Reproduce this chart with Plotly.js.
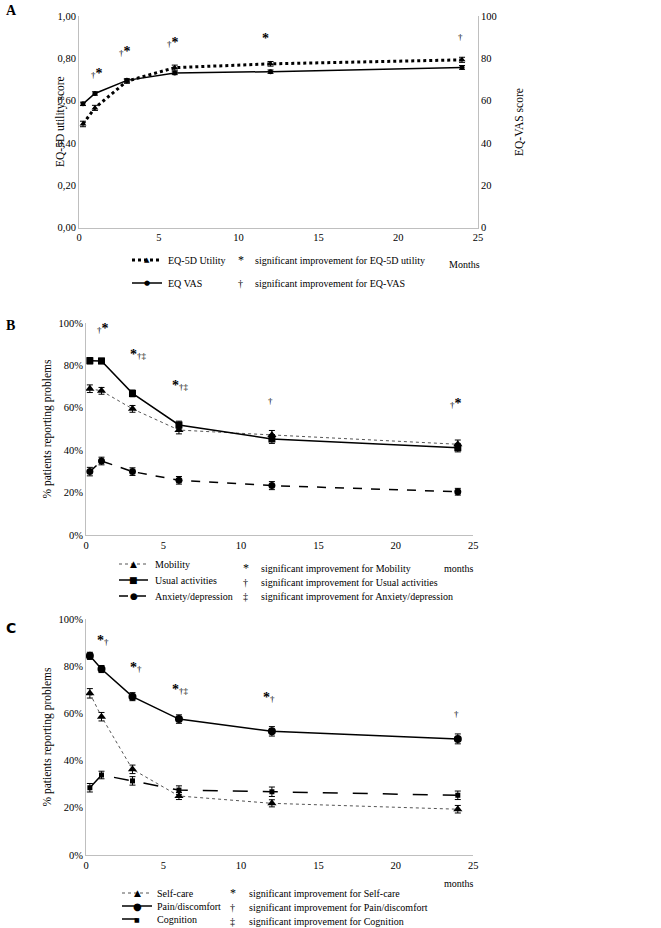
<!DOCTYPE html>
<html><head><meta charset="utf-8">
<script src="https://cdn.plot.ly/plotly-3.0.1.min.js"></script>
<style>body{margin:0;background:#fff}#chart{width:661px;height:928px}</style>
</head><body><div id="chart"></div>
<script>
// ---------- DATA ----------
const months = [0.25, 1, 3, 6, 12, 24];

// Panel A
const utility    = [0.49, 0.566, 0.692, 0.756, 0.774, 0.793];
const utilityErr = [0.013, 0.012, 0.010, 0.012, 0.011, 0.012];
const vas        = [58.5, 63.4, 69.6, 73.1, 73.7, 75.7];
const vasErr     = [0.8, 0.8, 0.7, 0.8, 0.8, 0.9];
const sigAx   = [1.1, 2.9, 5.9, 11.7, 23.9];
const sigAy   = [0.73, 0.83, 0.877, 0.892, 0.90];
const sigAtxt = ["†*", "†*", "†*", "*", "†"];

// Panel B
const mobility     = [69, 68, 59.5, 49.5, 47.2, 42.8];
const mobilityErr  = [1.8, 1.6, 1.6, 1.8, 2.1, 2.0];
const usual        = [82.2, 82.1, 66.8, 51.9, 45.3, 41.2];
const usualErr     = [1.5, 1.3, 1.6, 1.8, 2.1, 2.0];
const anxiety      = [29.9, 34.9, 29.9, 25.8, 23.3, 20.4];
const anxietyErr   = [2.0, 1.8, 1.8, 1.8, 1.9, 1.6];
const sigBx   = [1.1, 3.4, 6.1, 11.9, 23.9];
const sigBy   = [97.6, 85.2, 70.3, 63, 61.8];
const sigBtxt = ["†*", "*†‡", "*†‡", "†", "†*"];

// Panel C
const selfcare     = [68.5, 58.6, 36.3, 25.0, 21.9, 19.4];
const selfcareErr  = [2.0, 1.8, 1.8, 1.5, 1.5, 1.6];
const pain         = [84.4, 78.8, 67.1, 57.6, 52.4, 49.2];
const painErr      = [1.5, 1.5, 1.7, 1.8, 2.0, 2.1];
const cognition    = [28.5, 33.9, 31.4, 27.5, 26.8, 25.3];
const cognitionErr = [1.8, 1.6, 1.8, 1.8, 2.0, 1.8];
const sigCx   = [1.1, 3.2, 6.1, 11.8, 23.9];
const sigCy   = [91, 79.5, 70.3, 66.7, 59.6];
const sigCtxt = ["*†", "*†", "*†‡", "*†", "†"];

// ---------- STYLE / LAYOUT ----------
const W = 661, H = 928;
const SERIF = "Liberation Serif";
const px = x => x / W, py = y => 1 - y / H;
const AX = '#bfbfbf';
const LEG = 10;     // legend text size
const TICK = 10.5;  // tick label size
const TITLE = 11.5; // axis title size

function eb(arr){ return {type:'data', array:arr, visible:true, color:'#000', thickness:1, width:3}; }
function tr(y, err, xa, ya, mk, msize, dash, lw, lc){
  return {x: months, y: y, xaxis: xa, yaxis: ya, type:'scatter', mode:'lines+markers',
    line:{color: lc || '#000', width: lw, dash: dash},
    marker:{symbol: mk, size: msize, color:'#000'},
    error_y: eb(err), showlegend:false, hoverinfo:'skip'};
}
const data = [
  tr(vas, vasErr, 'x', 'y', 'circle', 5, 'solid', 1.5),
  tr(utility, utilityErr, 'x', 'y2', 'triangle-up', 6, 'dot', 3),
  tr(mobility, mobilityErr, 'x3', 'y3', 'triangle-up', 8, 'dot', 1, '#555'),
  tr(usual, usualErr, 'x3', 'y3', 'square', 7, 'solid', 1.5),
  tr(anxiety, anxietyErr, 'x3', 'y3', 'circle', 7, 'dash', 1.5),
  tr(selfcare, selfcareErr, 'x4', 'y4', 'triangle-up', 8, 'dot', 1, '#555'),
  tr(pain, painErr, 'x4', 'y4', 'circle', 8, 'solid', 1.5),
  tr(cognition, cognitionErr, 'x4', 'y4', 'square', 5, 'longdash', 1.5)
];

function fmtSig(s){
  return s.split('').map(c => c === '*' ? '<b><span style="font-size:14px;color:#000">*</span></b>'
                                       : '<span style="font-size:9px;color:#000">' + c + '</span>').join('');
}
const annotations = [];
function sigAnn(xs, ys, ts, xr, yr){
  xs.forEach((x, i) => annotations.push({xref: xr, yref: yr, x: x, y: ys[i], text: fmtSig(ts[i]),
    showarrow:false, xanchor:'center', yanchor:'middle', font:{family:SERIF, size:12, color:'#000'}}));
}
sigAnn(sigAx, sigAy, sigAtxt, 'x', 'y2');
sigAnn(sigBx, sigBy, sigBtxt, 'x3', 'y3');
sigAnn(sigCx, sigCy, sigCtxt, 'x4', 'y4');

function txt(x, y, text, size, extra){
  annotations.push(Object.assign({xref:'paper', yref:'paper', x:px(x), y:py(y), text:text, showarrow:false,
    xanchor:'left', yanchor:'middle', font:{family:SERIF, size:size || LEG, color:'#000'}}, extra || {}));
}
const shapes = [];
function sample(x0, x1, y, dash, lw, glyph, gsize, lc){
  shapes.push({type:'line', xref:'paper', yref:'paper', x0:px(x0), x1:px(x1), y0:py(y), y1:py(y),
    line:{color: lc || '#000', width: lw, dash: dash}});
  txt((x0 + x1) / 2, y, glyph, gsize, {xanchor:'center', font:{family:'DejaVu Sans', size:gsize, color:'#000'}});
}

// Panel labels
txt(4, 10, '<b>A</b>', 14);
txt(4, 326, '<b>B</b>', 14);
txt(4, 628, '<b>C</b>', 14, {font:{family:'DejaVu Sans', size:14, color:'#000'}});

// Panel A axis titles (rotated text)
txt(60, 122, 'EQ-5D utility score', TITLE, {xanchor:'center', textangle:-90});
txt(511, 122, 'EQ-VAS score', TITLE, {xanchor:'left', textangle:-90});

// Legend A
sample(132, 162, 260, 'dot', 3, '▲', 7);
txt(166, 260, 'EQ-5D Utility');
txt(236, 260, '*', 12);
txt(253, 260, 'significant improvement for EQ-5D utility');
txt(447, 264, 'Months');
sample(132, 162, 283, 'solid', 1.5, '●', 7);
txt(166, 283, 'EQ VAS');
txt(236, 283, '†');
txt(253, 283, 'significant improvement for EQ-VAS');

// Legend B
sample(119, 148, 564, 'dot', 1, '▲', 9, '#555');
txt(153, 564, 'Mobility');
sample(119, 148, 580, 'solid', 1.5, '■', 9);
txt(153, 580, 'Usual activities');
sample(119, 148, 596, 'dash', 1.5, '●', 9);
txt(153, 596, 'Anxiety/depression');
txt(241, 568, '*', 12);
txt(259, 568, 'significant improvement for Mobility');
txt(442, 568, 'months');
txt(241, 582, '†');
txt(259, 582, 'significant improvement for Usual activities');
txt(241, 596, '‡');
txt(259, 596, 'significant improvement for Anxiety/depression');

// Legend C
txt(442, 883, 'months');
sample(122, 152, 893, 'dot', 1, '▲', 9, '#555');
txt(155, 893, 'Self-care');
sample(122, 152, 906, 'solid', 1.5, '●', 10);
txt(155, 906, 'Pain/discomfort');
sample(122, 152, 919, 'longdash', 1.5, '■', 6);
txt(155, 919, 'Cognition');
txt(228, 893, '*', 12);
txt(247, 893, 'significant improvement for Self-care');
txt(228, 907, '†');
txt(247, 907, 'significant improvement for Pain/discomfort');
txt(228, 921, '‡');
txt(247, 921, 'significant improvement for Cognition');

const tf = {family: SERIF, size: TICK, color: '#000'};
function xax(dom, anchor){
  return {domain: dom, anchor: anchor, range:[0,25], dtick:5, tick0:0, showline:true, linecolor:AX, linewidth:1,
    ticks:'', showgrid:false, zeroline:false, tickfont: tf, fixedrange:true};
}
function yax(dom, anchor, range, dtick, extra){
  return Object.assign({domain: dom, anchor: anchor, range: range, dtick: dtick, tick0:0, showline:true, linecolor:AX,
    linewidth:1, ticks:'', showgrid:false, zeroline:false, tickfont: tf, fixedrange:true}, extra || {});
}
const tt = t => ({text: t, font:{family:SERIF, size:TITLE, color:'#000'}});

const layout = {
  width: W, height: H, autosize:false, margin:{l:0, r:0, t:0, b:0},
  paper_bgcolor:'#fff', plot_bgcolor:'#fff', separators:', ',
  font:{family: SERIF, color:'#000'},
  showlegend:false,
  xaxis:  xax([px(79), px(478)], 'y'),
  yaxis:  yax([py(227.7), py(16)], 'x', [0,100], 20, {side:'right'}),
  yaxis2: yax([py(227.7), py(16)], 'x', [0,1], 0.2, {overlaying:'y', side:'left', tickformat:'.2f'}),
  xaxis3: xax([px(86), px(473.3)], 'y3'),
  yaxis3: yax([py(535), py(323)], 'x3', [0,100], 20, {ticksuffix:'%',
           title: Object.assign(tt('% patients reporting problems'), {standoff:4})}),
  xaxis4: xax([px(86), px(473.3)], 'y4'),
  yaxis4: yax([py(855), py(619)], 'x4', [0,100], 20, {ticksuffix:'%',
           title: Object.assign(tt('% patients reporting problems'), {standoff:4})}),
  annotations: annotations,
  shapes: shapes
};
Plotly.newPlot('chart', data, layout, {staticPlot:true, displayModeBar:false});
</script>
</body></html>
